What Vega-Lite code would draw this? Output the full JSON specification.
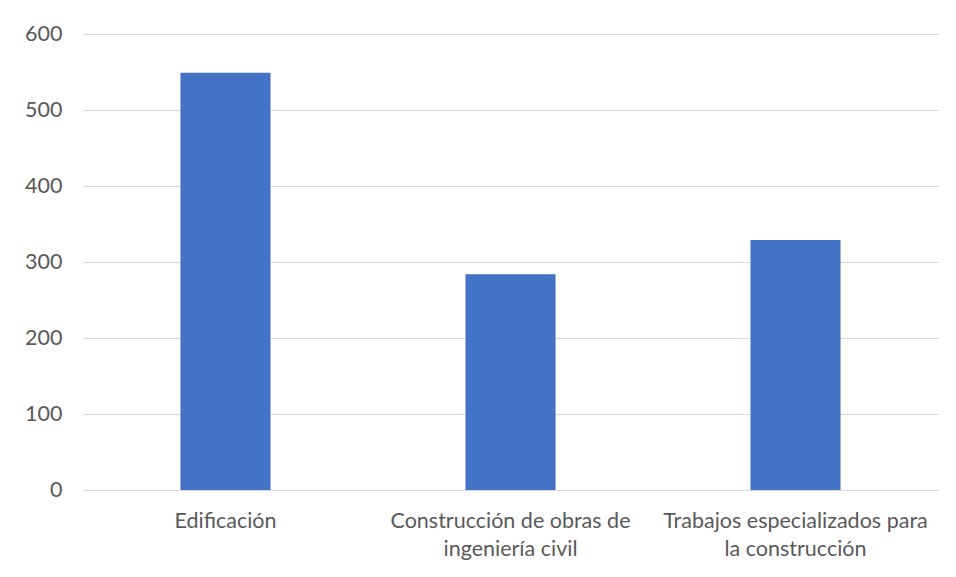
{
  "$schema": "https://vega.github.io/schema/vega-lite/v6.json",
  "width": 855,
  "height": 456,
  "autosize": {"type": "none"},
  "padding": {"left": 83, "top": 34, "right": 18, "bottom": 87},
  "background": "white",
  "config": {"view": {"stroke": null}, "font": "Lato"},
  "data": {"values": [
    {"categoria": "Edificación", "valor": 549},
    {"categoria": "Construcción de obras de ingeniería civil", "valor": 284},
    {"categoria": "Trabajos especializados para la construcción", "valor": 329}
  ]},
  "mark": {"type": "bar", "color": "#4472C4"},
  "encoding": {
    "x": {
      "field": "categoria", "type": "nominal", "sort": null,
      "scale": {"paddingInner": 0.684, "paddingOuter": 0.342},
      "axis": {
        "title": null, "labelAngle": 0, "ticks": false,
        "domainColor": "#d9d9d9", "domainWidth": 1,
        "labelFont": "Lato", "labelFontSize": 21.5, "labelColor": "#595959",
        "labelPadding": 20, "labelLineHeight": 28, "labelLimit": 400,
        "labelExpr": "datum.label == 'Construcción de obras de ingeniería civil' ? ['Construcción de obras de', 'ingeniería civil'] : datum.label == 'Trabajos especializados para la construcción' ? ['Trabajos especializados para', 'la construcción'] : datum.label"
      }
    },
    "y": {
      "field": "valor", "type": "quantitative",
      "scale": {"domain": [0, 600]},
      "axis": {
        "title": null, "values": [0, 100, 200, 300, 400, 500, 600],
        "ticks": false, "domain": false,
        "gridColor": "#d9d9d9", "gridWidth": 1,
        "labelFont": "Lato", "labelFontSize": 21.5, "labelColor": "#595959",
        "labelPadding": 21
      }
    }
  }
}
